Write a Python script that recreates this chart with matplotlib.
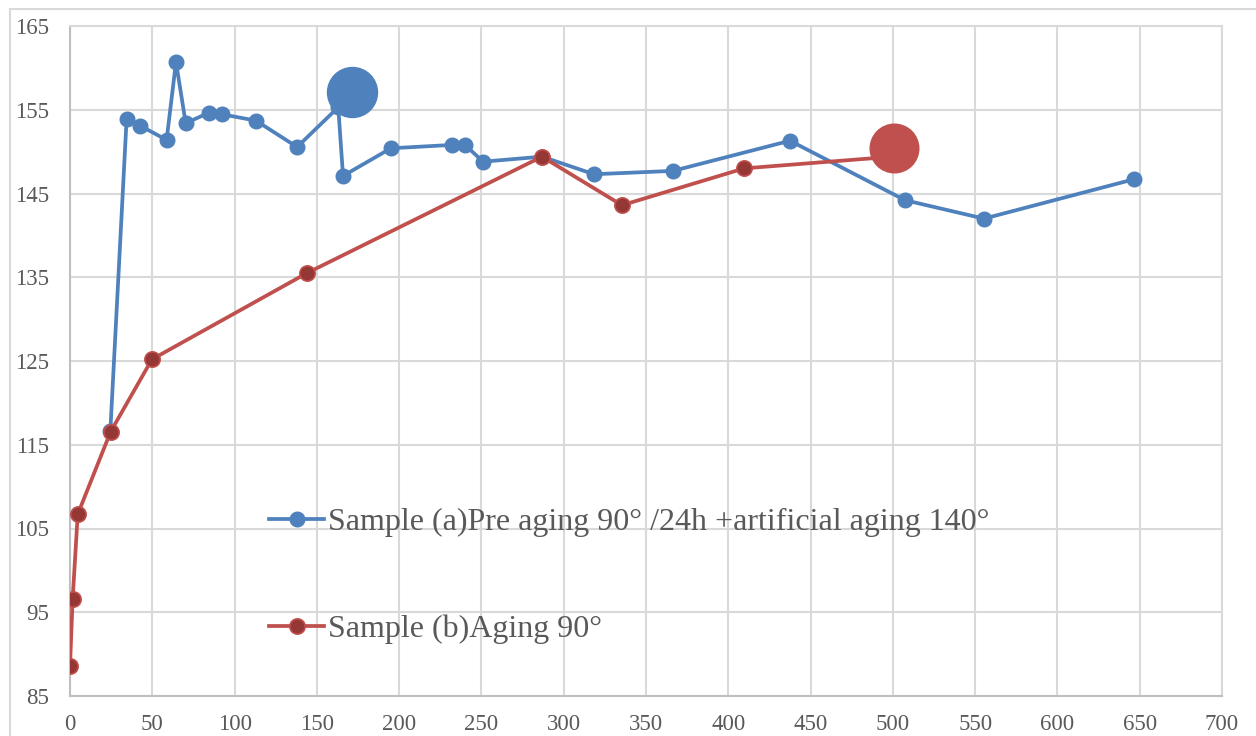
import matplotlib.pyplot as plt
from matplotlib.patches import Rectangle

# Dados: amostra (a) pre-envelhecimento + envelhecimento artificial
xa = [24.5, 34.4, 42.5, 58.7, 64.4, 70.3, 84.5, 92.6, 113, 138, 163,
      165.9, 195, 232, 240, 251, 286.8, 318.4, 366.4, 437.5, 507.4, 555.4, 646.5]
ya = [116.6, 153.9, 153.1, 151.4, 160.7, 153.4, 154.65, 154.45, 153.7, 150.55, 155.3,
      147.1, 150.4, 150.8, 150.8, 148.8, 149.4, 147.3, 147.7, 151.3, 144.2, 142.0, 146.7]

# Dados: amostra (b) envelhecimento 90°
xb = [0, 1.6, 4.7, 24.7, 49.8, 144, 286.8, 335.4, 409.6, 500]
yb = [88.6, 96.55, 106.7, 116.56, 125.2, 135.5, 149.4, 143.6, 148.0, 149.4]

# Pontos destacados (marcadores grandes)
xa_big, ya_big = [171.4], [157.1]
xb_big, yb_big = [500.7], [150.4]

label_a = "Sample (a)Pre aging 90° /24h +artificial aging 140°"
label_b = "Sample (b)Aging 90°"

blue = "#4F81BD"
red = "#C0504D"
red_dark = "#953735"
grid_c = "#D9D9D9"
txt_c = "#595959"

plt.rcParams['font.family'] = ['Liberation Serif', 'DejaVu Serif']

fig = plt.figure(figsize=(12.56, 7.36), dpi=100)
W, H = 1256, 736
ax = fig.add_axes([70 / W, (H - 696) / H, (1222 - 70) / W, (696 - 26) / H])

# borda externa do gráfico
fig.patches.append(Rectangle((10 / W, -0.1), 1.2, (H - 9) / H + 0.1,
                             transform=fig.transFigure, fill=False,
                             edgecolor=grid_c, linewidth=1.5))

ax.plot(xa, ya, '-o', color=blue, lw=2.7, markersize=10.5,
        markerfacecolor=blue, markeredgecolor=blue, label=label_a, zorder=3)
ax.plot(xb, yb, '-o', color=red, lw=2.7, markersize=11,
        markerfacecolor=red_dark, markeredgecolor=red, markeredgewidth=1.2,
        label=label_b, zorder=4)
ax.plot(xa_big, ya_big, 'o', color=blue, markersize=36, zorder=5)
ax.plot(xb_big, yb_big, 'o', color=red, markersize=35, zorder=5)

ax.set_xlim(0, 700)
ax.set_ylim(85, 165)
ax.set_xticks(range(0, 701, 50))
ax.set_yticks(range(85, 166, 10))
ax.grid(True, color=grid_c, linewidth=1.5, zorder=0)
ax.set_axisbelow(True)
for s in ['top', 'right']:
    ax.spines[s].set_color(grid_c)
    ax.spines[s].set_linewidth(1.5)
for s in ['left', 'bottom']:
    ax.spines[s].set_color("#BFBFBF")
    ax.spines[s].set_linewidth(1.5)
ax.tick_params(length=0, labelsize=16.5, colors=txt_c)
ax.tick_params(axis='y', pad=15)
ax.tick_params(axis='x', pad=13)

leg = ax.legend(loc='upper left', bbox_to_anchor=(0.162, 0.30), frameon=False,
                fontsize=23, labelcolor=txt_c, handlelength=1.7, handletextpad=0.15,
                labelspacing=2.42, borderaxespad=0)

fig.savefig("out.png", dpi=100)
